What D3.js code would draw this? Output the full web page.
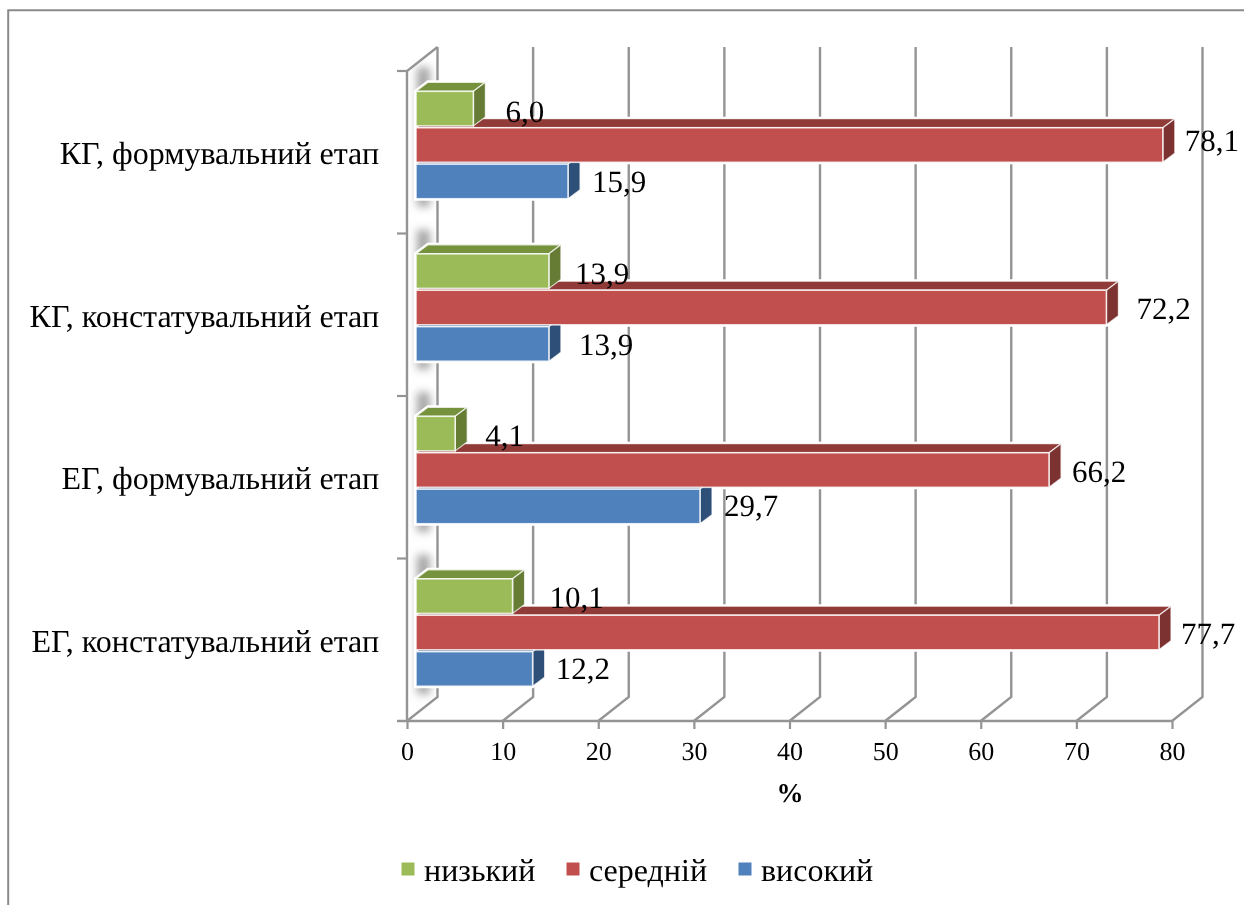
<!DOCTYPE html>
<html>
<head>
<meta charset="utf-8">
<script src="https://cdn.jsdelivr.net/npm/d3@7"></script>
<style>
    html, body { margin: 0; padding: 0; background: #fff; }
    svg { display: block; }
    text { font-family: "Liberation Serif", serif; fill: #000; text-rendering: geometricPrecision; }
</style>
</head>
<body>
<div id="chart"></div>
<script>
const categories = ["ЕГ, констатувальний етап", "ЕГ, формувальний етап", "КГ, констатувальний етап", "КГ, формувальний етап"]
const seriesNames = ["низький", "середній", "високий"]
const nyzkyi = [10.1, 4.1, 13.9, 6.0]
const serednii = [77.7, 66.2, 72.2, 78.1]
const vysokyi = [12.2, 29.7, 13.9, 15.9]
const xTicks = [0, 10, 20, 30, 40, 50, 60, 70, 80]

const seriesValues = [nyzkyi, serednii, vysokyi]
const fronts = ["#9bbb59", "#c0504d", "#4f81bd"]
const tops = ["#76923c", "#913a38", "#3a5f8f"]
const sides = ["#667b36", "#7d3331", "#2f5078"]

// label nudges (dx from bar end, dy from bar middle), the original placement is uneven
const labelNudge = [
    [[37, 12], [22, 11.5], [23, 10]],
    [[30, 12], [23, 11.5], [24, 10]],
    [[26, 13], [30, 11.5], [30, 11]],
    [[32, 13], [22, 6], [24, 11]]
]

const width = 1244
const height = 905
const depthX = 30.5
const depthY = -24
const barInset = 9
const barDepthX = 12
const barDepthY = -9
const axisY = 721
const axisTop = 71
const gridColor = "#949494"

const svg = d3.select("#chart").append("svg")
              .attr("width", width)
              .attr("height", height)
              .attr("viewBox", [0, 0, width, height])

const defs = svg.append("defs")
defs.append("filter")
    .attr("id", "soft")
    .attr("x", "-100%").attr("width", "300%")
    .attr("y", "-20%").attr("height", "140%")
    .append("feGaussianBlur")
    .attr("stdDeviation", 4)
defs.append("filter")
    .attr("id", "slight")
    .attr("filterUnits", "userSpaceOnUse")
    .attr("x", 0).attr("y", 0).attr("width", width).attr("height", height)
    .append("feGaussianBlur")
    .attr("stdDeviation", 0.4)

// outer frame
svg.append("path")
   .attr("d", `M8.2,${height} V10.2 H${width}`)
   .attr("fill", "none")
   .attr("stroke", "#8a8a8a")
   .attr("stroke-width", 2)

const chart = svg.append("g").attr("filter", "url(#slight)")

// scales
const xScale = d3.scaleLinear().domain([0, 80]).range([407, 1172])
const yScale = d3.scaleBand().domain(categories).range([axisY, axisTop])
const barScale = d3.scaleBand().domain(seriesNames)
                   .range([yScale.bandwidth() * 0.125, yScale.bandwidth() * 0.786])
                   .paddingInner(0.05)

const barLeft = xScale(0) + barInset
const barRight = v => barLeft + (xScale(v) - xScale(0))

// 3d grid
const grid = chart.append("g")
                  .attr("fill", "none")
                  .attr("stroke", gridColor)
                  .attr("stroke-width", 2.4)
grid.selectAll(".grid-line")
    .data(xTicks)
    .join("path")
    .attr("class", "grid-line")
    .attr("d", d => `M${xScale(d)},${axisY} L${xScale(d) + depthX},${axisY + depthY} V${axisTop + depthY}`)
grid.append("path")
    .attr("d", `M${xScale(0)},${axisY} V${axisTop} L${xScale(0) + depthX},${axisTop + depthY}`)

// x axis
const xAxis = d3.axisBottom(xScale)
                .tickValues(xTicks)
                .tickSize(8)
                .tickPadding(13)
const xAxisG = chart.append("g")
                    .attr("class", "x-axis")
                    .attr("transform", `translate(0, ${axisY})`)
                    .call(xAxis)
xAxisG.selectAll("line").attr("stroke", gridColor).attr("stroke-width", 2.2)
xAxisG.select("path").remove()
xAxisG.append("line")
      .attr("x1", xScale(0) - 10).attr("x2", xScale(80))
      .attr("stroke", gridColor).attr("stroke-width", 2.4)
xAxisG.selectAll("text")
      .attr("font-size", "26px")
      .attr("font-family", "Liberation Serif")
      .attr("fill", "#000")

// y axis
const yAxis = d3.axisLeft(yScale)
                .tickSize(0)
                .tickPadding(28)
const yAxisG = chart.append("g")
                    .attr("class", "y-axis")
                    .attr("transform", `translate(${xScale(0)}, 1.5)`)
                    .call(yAxis)
yAxisG.select("path").remove()
yAxisG.selectAll("text")
      .attr("font-size", "32px")
      .attr("font-family", "Liberation Serif")
      .attr("fill", "#000")
chart.append("g")
     .selectAll(".y-tick")
     .data(categories)
     .join("line")
     .attr("class", "y-tick")
     .attr("x1", xScale(0) - 10)
     .attr("x2", xScale(0))
     .attr("y1", d => yScale(d))
     .attr("y2", d => yScale(d))
     .attr("stroke", gridColor)
     .attr("stroke-width", 2.2)

// bars, one group per category
const groups = chart.append("g")
                    .selectAll(".category")
                    .data(categories)
                    .join("g")
                    .attr("class", "category")
                    .attr("transform", d => `translate(0, ${yScale(d)})`)

// soft wall shadow behind the bars
groups.append("rect")
      .attr("x", barLeft + 1)
      .attr("width", 13)
      .attr("y", barScale(seriesNames[0]) - 24)
      .attr("height", barScale(seriesNames[2]) + barScale.bandwidth() - barScale(seriesNames[0]) + 32)
      .attr("fill", "#a6a6a6")
      .attr("filter", "url(#soft)")

groups.each(function (cat, ci) {
    const g = d3.select(this)
    // lowest series first, so the bar above hides its top face
    const order = [2, 1, 0]
    // white halo cuts the grid lines around the bars
    order.forEach(si => {
        const x1 = barRight(seriesValues[si][ci])
        const y0 = barScale(seriesNames[si])
        const y1 = y0 + barScale.bandwidth()
        g.append("path")
         .attr("d", `M${barLeft},${y0} L${barLeft + barDepthX},${y0 + barDepthY} H${x1 + barDepthX} V${y1 + barDepthY} L${x1},${y1} H${barLeft} Z`)
         .attr("fill", "#fff")
         .attr("stroke", "#fff")
         .attr("stroke-width", 4)
    })
    order.forEach(si => {
        const x1 = barRight(seriesValues[si][ci])
        const y0 = barScale(seriesNames[si])
        const y1 = y0 + barScale.bandwidth()
        g.append("path")
         .attr("d", `M${barLeft},${y0} L${barLeft + barDepthX},${y0 + barDepthY} H${x1 + barDepthX} L${x1},${y0} Z`)
         .attr("fill", tops[si])
         .attr("stroke", "#fff").attr("stroke-opacity", 0.75).attr("stroke-width", 1.2)
        g.append("path")
         .attr("d", `M${x1},${y0} L${x1 + barDepthX},${y0 + barDepthY} V${y1 + barDepthY} L${x1},${y1} Z`)
         .attr("fill", sides[si])
         .attr("stroke", "#fff").attr("stroke-opacity", 0.75).attr("stroke-width", 1.2)
        g.append("rect")
         .attr("x", barLeft)
         .attr("y", y0)
         .attr("width", x1 - barLeft)
         .attr("height", y1 - y0)
         .attr("fill", fronts[si])
         .attr("stroke", "#fff").attr("stroke-opacity", 0.8).attr("stroke-width", 1.6)
    })
})

// value labels go on top of everything
groups.each(function (cat, ci) {
    const g = d3.select(this)
    seriesNames.forEach((name, si) => {
        const v = seriesValues[si][ci]
        const nudge = labelNudge[ci][si]
        g.append("text")
         .attr("x", barRight(v) + nudge[0])
         .attr("y", barScale(name) + barScale.bandwidth() / 2 + nudge[1])
         .attr("font-size", "31px")
         .text(v.toFixed(1).replace(".", ","))
    })
})

// axis title
chart.append("text")
     .attr("x", 790)
     .attr("y", 802)
     .attr("text-anchor", "middle")
     .attr("font-size", "27px")
     .attr("font-weight", "bold")
     .text("%")

// legend
const legendX = d3.scaleOrdinal().domain(seriesNames).range([401, 566, 738])
const legend = chart.append("g")
                    .selectAll(".legend")
                    .data(seriesNames)
                    .join("g")
                    .attr("class", "legend")
                    .attr("transform", d => `translate(${legendX(d)}, 862)`)
legend.append("rect")
      .attr("width", 14)
      .attr("height", 14)
      .attr("fill", (d, i) => fronts[i])
      .attr("stroke", "#fff")
legend.append("text")
      .attr("x", 23)
      .attr("y", 19)
      .attr("font-size", "32px")
      .text(d => d)
</script>
</body>
</html>
